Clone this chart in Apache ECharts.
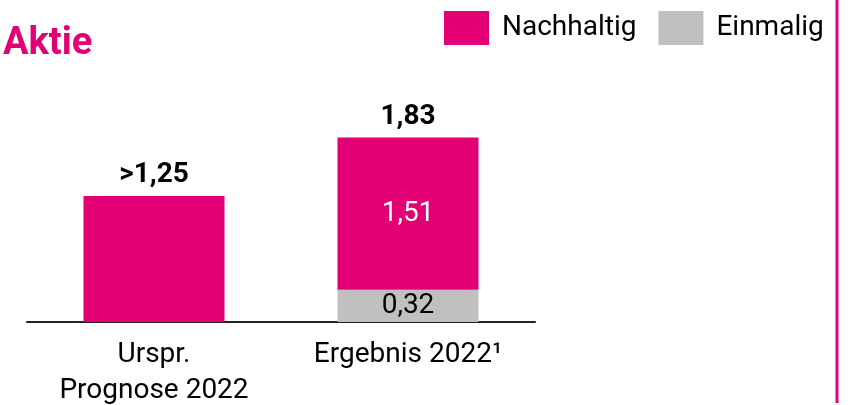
<!DOCTYPE html>
<html>
<head>
<meta charset="utf-8">
<script src="https://cdn.jsdelivr.net/npm/echarts@6/dist/echarts.min.js"></script>
<style>
  html, body { margin: 0; padding: 0; background: #fff; }
  #chart { width: 853px; height: 405px; }
</style>
</head>
<body>
<div id="chart"></div>
<script>
// Werte aus der Grafik
const categories = ["Urspr.\nPrognose 2022", "Ergebnis 2022¹"];
const nachhaltig = [1.25, 1.51];
const einmalig = ["-", 0.32];
const totals = [1.25, 1.83];
const totalLabels = [">1,25", "1,83"];
const showInner = [false, true];

const magenta = "#E20074";
const grau = "#C0C0C0";
const font = "Roboto";

function fmt(v) {
  return v.toFixed(2).replace(".", ",");
}

let myChart = echarts.init(document.getElementById("chart"));

myChart.setOption({
  animation: false,
  textStyle: { fontFamily: font },
  title: {
    text: "Aktie",
    left: -2,
    top: 20,
    textStyle: { color: magenta, fontSize: 38, fontWeight: "bold", fontFamily: font },
  },
  legend: {
    data: ["Nachhaltig", "Einmalig"],
    left: 439,
    top: 6,
    itemWidth: 45,
    itemHeight: 34,
    itemGap: 22,
    icon: "rect",
    textStyle: { fontSize: 28, color: "#000", padding: [0, 0, 0, 8] },
  },
  grid: {
    left: 27,
    right: 318,
    top: 70,
    bottom: 83,
    outerBoundsMode: "none",
    containLabel: false,
  },
  xAxis: {
    type: "category",
    data: categories,
    axisLine: { lineStyle: { color: "#222", width: 2 } },
    axisTick: { show: false },
    axisLabel: { fontSize: 28, color: "#000", lineHeight: 36, margin: 15 },
  },
  yAxis: {
    type: "value",
    min: 0,
    max: 2.5,
    show: false,
    splitLine: { show: false },
  },
  series: [
    {
      name: "Einmalig",
      type: "bar",
      stack: "total",
      barWidth: 141,
      data: einmalig,
      itemStyle: { color: grau },
      label: {
        show: true,
        position: "inside",
        fontSize: 28,
        color: "#000",
        formatter: (p) => fmt(p.value),
      },
    },
    {
      name: "Nachhaltig",
      type: "bar",
      stack: "total",
      barWidth: 141,
      data: nachhaltig,
      itemStyle: { color: magenta },
      label: {
        show: true,
        position: "inside",
        fontSize: 28,
        color: "#fff",
        formatter: (p) => (showInner[p.dataIndex] ? fmt(p.value) : ""),
      },
    },
    {
      name: "Summe",
      type: "scatter",
      data: totals,
      symbolSize: 0,
      silent: true,
      itemStyle: { opacity: 1 },
      label: {
        show: true,
        position: "top",
        distance: 7,
        fontSize: 28,
        fontWeight: "bold",
        color: "#000",
        formatter: (p) => totalLabels[p.dataIndex],
      },
    },
  ],
  graphic: [
    {
      type: "line",
      shape: { x1: 837, y1: 0, x2: 837, y2: 403 },
      style: { stroke: magenta, lineWidth: 3 },
    },
  ],
});
</script>
</body>
</html>
